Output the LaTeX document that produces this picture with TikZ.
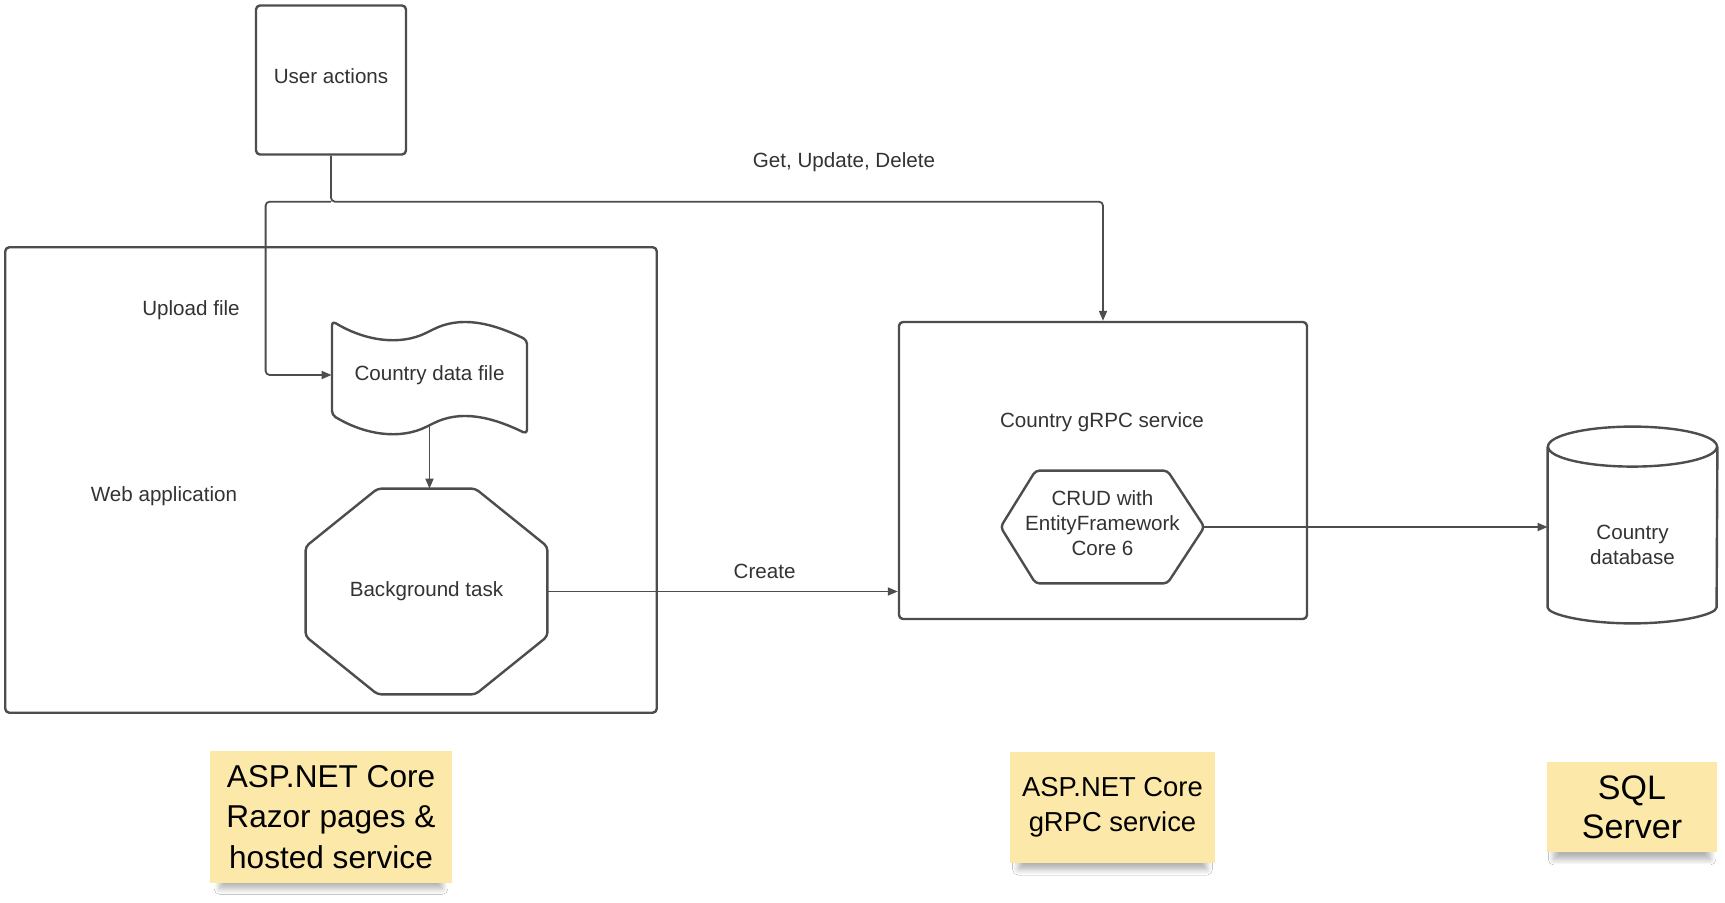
\documentclass[tikz,border=0pt]{standalone}
\usepackage{fontspec}
\setmainfont{Liberation Sans}
\usetikzlibrary{arrows.meta,calc,shadows.blur}
\definecolor{stroke}{HTML}{4D4D4D}
\definecolor{sticky}{RGB}{252,233,170}
\tikzset{
 box/.style={draw=stroke,line width=1.2pt,rounded corners=2pt,inner sep=0pt},
 ghost/.style={inner sep=0pt},
 conn/.style={draw=stroke,line width=.9pt,rounded corners=2pt},
 lbl/.style={inner sep=0pt},
 note/.style={fill=sticky,align=center,inner sep=0pt,text=black,
  blur shadow={shadow xshift=0pt,shadow yshift=-6pt,shadow scale=.92,shadow blur steps=8,shadow blur radius=3pt,shadow opacity=30}},
}
\begin{document}
\begin{tikzpicture}[x=.5pt,y=-.5pt,>={Triangle[length=5pt,width=4pt]},line join=round,font=\fontsize{10.3}{12.5}\selectfont,text=black!80]
 \path[use as bounding box,fill=white] (0,0) rectangle (1725,903);
 \node[box,minimum width=75pt,minimum height=74.5pt] (user) at (331,80) {};
 \node[lbl] (userlbl) at (331,76) {User actions};
 \node[box,minimum width=325.75pt,minimum height=232.75pt] (web) at (331,480) {};
 \node[lbl] (uplbl) at (191,310) {Upload file};
 \node[lbl] (weblbl) at (164,496) {Web application};
 \node[ghost,minimum width=97.5pt,minimum height=50pt] (file) at (429.5,375) {Country data file};
 \draw[box] (332,321) .. controls (365,341) and (400,346) .. (430,331)
  .. controls (460,316) and (490,322) .. (527,340) -- (527,434)
  .. controls (490,416) and (460,410) .. (430,425)
  .. controls (400,440) and (365,435) .. (332,415) -- cycle;
 \node[ghost,minimum width=120.5pt,minimum height=102.5pt] (task) at (426.5,591.5) {Background task};
 \draw[box] ($(task.north west)+(72,0)$) -- ($(task.north east)+(-72,0)$)
  -- ($(task.north east)+(0,58)$) -- ($(task.south east)+(0,-58)$)
  -- ($(task.south east)+(-72,0)$) -- ($(task.south west)+(72,0)$)
  -- ($(task.south west)+(0,-58)$) -- ($(task.north west)+(0,58)$) -- cycle;
 \node[box,minimum width=204pt,minimum height=148.5pt] (grpc) at (1103,470.5) {};
 \node[lbl] (grpclbl) at (1102,422) {Country gRPC service};
 \node[ghost,minimum width=101.5pt,minimum height=56pt] (crud) at (1102.5,527) {};
 \node[lbl,align=center] (crudlbl) at (1102.5,523) {CRUD with\\EntityFramework\\Core 6};
 \draw[box] ($(crud.north west)+(35,0)$) -- ($(crud.north east)+(-37,0)$) -- (crud.east)
  -- ($(crud.south east)+(-37,0)$) -- ($(crud.south west)+(35,0)$) -- (crud.west) -- cycle;
 \node[ghost,align=center,minimum width=84.5pt,minimum height=78pt] (db) at (1632.5,545) {Country\\database};
 \draw[box] ($(db.north)+(0,-20)$) ellipse [x radius=42.25pt,y radius=10pt];
 \draw[box] ($(db.north west)+(0,-20)$) -- ($(db.south west)+(0,-20)$)
  arc[start angle=180,end angle=360,x radius=42.25pt,y radius=10pt] -- ($(db.north east)+(0,-20)$);
 \coordinate (split) at ($(user.south)+(0,46)$);
 \draw[conn,->] (user.south) -- (split) -| (grpc.north);
 \draw[conn,->] (split) -| ([xshift=-33pt]file.west) -- (file.west);
 \node[lbl] (getlbl) at (844,162) {Get, Update, Delete};
 \draw[conn,->] (file.south) -- (file.south |- task.north);
 \draw[conn,->] (task.east) -- (task.east -| grpc.west) node[lbl,pos=.62,above=6pt] (createlbl) {Create};
 \draw[conn,->] (crud.east) -- (crud.east -| db.west);
 \node[note,minimum width=121pt,minimum height=66pt,font=\fontsize{15.8}{20.4}\selectfont] (razor) at (331,817) {ASP.NET Core\\Razor pages \&\\hosted service};
 \node[note,minimum width=102.5pt,minimum height=55.5pt,font=\fontsize{13.7}{17.5}\selectfont] (grpcnote) at (1112.5,807.5) {ASP.NET Core\\gRPC service};
 \node[note,minimum width=85pt,minimum height=45pt,font=\fontsize{17}{17.5}\selectfont] (sqlnote) at (1632,807) {\raisebox{2pt}{SQL}\\Server};
\end{tikzpicture}
\end{document}
